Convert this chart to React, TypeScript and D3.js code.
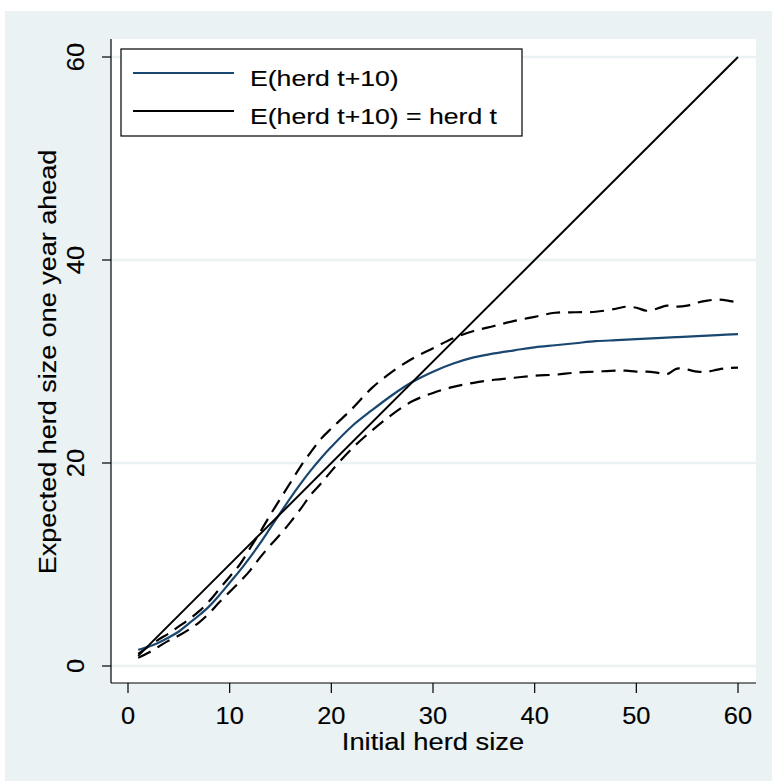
import React from "react";
import * as d3 from "d3";

const meanX = [1,2,3,4,5,6,7,8,9,10,11,12,13,14,15,16,17,18,19,20,22,24,26,28,30,32,34,36,38,40,42,44,46,48,50,52,54,56,58,60];
const meanY = [1.6,1.9,2.3,2.8,3.4,4.2,5.0,5.9,7.0,8.2,9.4,10.7,12.1,13.6,15.1,16.6,18.0,19.3,20.5,21.6,23.6,25.2,26.7,28.0,29.0,29.8,30.4,30.8,31.1,31.4,31.6,31.8,32.0,32.1,32.2,32.3,32.4,32.5,32.6,32.7];

const ciX = [1,2,3,4,5,6,7,8,9,10,11,12,13,14,15,16,17,18,19,20,22,24,26,28,30,32,34,36,38,40,42,44,46,48,49,50,51,52,53,54,55,56,57,58,59,60];
const upperY = [1.2,1.9,2.6,3.2,3.9,4.6,5.4,6.4,7.6,8.8,10.0,11.6,13.2,14.9,16.5,18.1,19.7,21.1,22.4,23.4,25.3,27.4,29.0,30.3,31.3,32.3,33.0,33.5,34.0,34.4,34.8,34.85,34.9,35.2,35.4,35.3,35.0,35.2,35.5,35.4,35.5,35.8,36.0,36.1,36.0,35.8];
const lowerY = [0.8,1.3,1.9,2.5,3.0,3.6,4.3,5.2,6.3,7.3,8.3,9.4,10.7,11.9,13.0,14.2,15.5,16.9,18.0,19.2,21.4,23.2,24.8,26.1,26.9,27.5,27.9,28.2,28.4,28.6,28.7,28.9,29.0,29.1,29.1,29.0,29.0,28.9,28.75,29.3,29.2,29.0,29.0,29.2,29.35,29.4];

const identityX = [1, 60];

const xTicks = [0, 10, 20, 30, 40, 50, 60];
const yTicks = [0, 20, 40, 60];

const legendLabels = ["E(herd t+10)", "E(herd t+10) = herd t"];
const xTitle = "Initial herd size";
const yTitle = "Expected herd size one year ahead";

const W = 772;
const H = 781;
const BG = "#eaf2f3";
const BLUE = "#1a476f";
const FONT = "'Liberation Sans', Arial, sans-serif";

export default function App() {
  const x = d3.scaleLinear().domain([0, 60]).range([128, 738]);
  const y = d3.scaleLinear().domain([0, 60]).range([666, 57]);

  const plotLeft = 111, plotRight = 756, plotTop = 39, plotBottom = 683;

  const meanLine = d3.line<number>().x((_, i) => x(meanX[i])).y((d) => y(d)).curve(d3.curveCatmullRom);
  const ciLine = d3.line<number>().x((_, i) => x(ciX[i])).y((d) => y(d)).curve(d3.curveCatmullRom);
  const idLine = d3.line<number>().x((d) => x(d)).y((d) => y(d));

  const textStyle = { fill: "#000", stroke: "#000", strokeWidth: 0.15 } as const;

  return (
    <svg width={W} height={H} style={{ position: "absolute", left: 0, top: 0, fontFamily: FONT }}>
      <rect x={0} y={0} width={W} height={H} fill="#ffffff" />
      <rect x={5} y={11} width={W - 5} height={H - 11} fill={BG} />
      <rect x={plotLeft} y={plotTop} width={plotRight - plotLeft} height={plotBottom - plotTop} fill="#ffffff" />

      {yTicks.map((t) => (
        <line key={"g" + t} x1={plotLeft} x2={plotRight} y1={y(t)} y2={y(t)} stroke={BG} strokeWidth={2.5} />
      ))}

      <line x1={plotLeft} x2={plotLeft} y1={plotTop} y2={plotBottom} stroke="#000" strokeWidth={1.2} />
      <line x1={plotLeft} x2={plotRight} y1={plotBottom} y2={plotBottom} stroke="#000" strokeWidth={1.2} />

      {yTicks.map((t) => (
        <g key={"yt" + t}>
          <line x1={plotLeft - 9} x2={plotLeft} y1={y(t)} y2={y(t)} stroke="#000" strokeWidth={1.2} />
          <text
            transform={`translate(${84},${y(t)}) rotate(-90) scale(1.06,1)`}
            textAnchor="middle"
            fontSize={24}
            {...textStyle}
          >
            {t}
          </text>
        </g>
      ))}

      {xTicks.map((t) => (
        <g key={"xt" + t}>
          <line x1={x(t)} x2={x(t)} y1={plotBottom} y2={plotBottom + 10} stroke="#000" strokeWidth={1.2} />
          <text transform={`translate(${x(t)},724) scale(1.06,1)`} textAnchor="middle" fontSize={24} {...textStyle}>
            {t}
          </text>
        </g>
      ))}

      <text transform={`translate(${x(30)},750) scale(1.14,1)`} textAnchor="middle" fontSize={24} {...textStyle}>
        {xTitle}
      </text>
      <text
        transform={`translate(${56},${362}) rotate(-90) scale(1.125,1)`}
        textAnchor="middle"
        fontSize={24}
        {...textStyle}
      >
        {yTitle}
      </text>

      <path d={ciLine(upperY) || ""} fill="none" stroke="#000" strokeWidth={2.2} strokeDasharray="14 8" />
      <path d={ciLine(lowerY) || ""} fill="none" stroke="#000" strokeWidth={2.2} strokeDasharray="14 8" />
      <path d={meanLine(meanY) || ""} fill="none" stroke={BLUE} strokeWidth={2.2} />
      <path d={idLine(identityX) || ""} fill="none" stroke="#000" strokeWidth={2} />

      <rect x={121} y={49} width={401} height={87} fill="#ffffff" stroke="#000" strokeWidth={1.2} />
      {legendLabels.map((lab, i) => (
        <g key={lab}>
          <line x1={133} x2={234} y1={73 + i * 38} y2={73 + i * 38} stroke={i === 0 ? BLUE : "#000"} strokeWidth={2} />
          <text transform={`translate(250,${86 + i * 37.5}) scale(1.21,1)`} fontSize={22} {...textStyle}>
            {lab}
          </text>
        </g>
      ))}
    </svg>
  );
}
